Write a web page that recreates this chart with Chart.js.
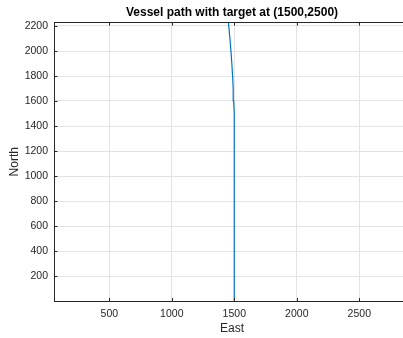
<!DOCTYPE html>
<html>
<head>
<meta charset="utf-8">
<script src="https://cdn.jsdelivr.net/npm/chart.js@4/dist/chart.umd.min.js"></script>
<style>
  html, body { margin: 0; padding: 0; background: #fff; overflow: hidden; }
  #wrap { width: 403px; height: 338px; overflow: hidden; }
  canvas { display: block; }
</style>
</head>
<body>
<div id="wrap"><canvas id="c" width="412" height="338"></canvas></div>
<script>
// Vessel track: North position and matching East position
const northPos = [0, 400, 800, 1200, 1300, 1400, 1500, 1600, 1700, 1800, 1900, 2000, 2100, 2200, 2300];
const eastPos  = [1500, 1500, 1500, 1500, 1500, 1499.5, 1497.8, 1495.1, 1491.2, 1486.3, 1480.3, 1473.2, 1464.9, 1455.6, 1445.2];

// Axis tick labels
const eastTicks  = [500, 1000, 1500, 2000, 2500];
const northTicks = [200, 400, 600, 800, 1000, 1200, 1400, 1600, 1800, 2000, 2200];

const AXIS = '#262626';
const FONT = "'Liberation Sans', Arial, Helvetica, sans-serif";

// Inward tick marks plus the top/right frame of the axes box
const boxTicks = {
  id: 'boxTicks',
  afterDraw(chart) {
    const { ctx, chartArea: a, scales } = chart;
    const len = 3.5;
    ctx.save();
    ctx.strokeStyle = AXIS;
    ctx.lineWidth = 1;
    ctx.beginPath();
    ctx.moveTo(a.left, a.top + 0.5);
    ctx.lineTo(a.right, a.top + 0.5);
    ctx.lineTo(a.right, a.bottom);
    scales.x.ticks.forEach(t => {
      const px = Math.round(scales.x.getPixelForValue(t.value)) + 0.5;
      ctx.moveTo(px, a.bottom); ctx.lineTo(px, a.bottom - len);
      ctx.moveTo(px, a.top); ctx.lineTo(px, a.top + len);
    });
    scales.y.ticks.forEach(t => {
      const py = Math.round(scales.y.getPixelForValue(t.value)) + 0.5;
      ctx.moveTo(a.left, py); ctx.lineTo(a.left + len, py);
      ctx.moveTo(a.right, py); ctx.lineTo(a.right - len, py);
    });
    ctx.stroke();
    ctx.restore();
  }
};

const plain = v => String(v);

new Chart(document.getElementById('c'), {
  type: 'scatter',
  data: {
    datasets: [{
      data: northPos.map((n, i) => ({ x: eastPos[i], y: n })),
      showLine: true,
      borderColor: '#0072BD',
      borderWidth: 1.2,
      pointRadius: 0,
      tension: 0,
      fill: false
    }]
  },
  options: {
    responsive: false,
    animation: false,
    devicePixelRatio: 1,
    layout: { padding: { left: 0, right: 2, top: 0, bottom: 0 } },
    plugins: {
      legend: { display: false },
      tooltip: { enabled: false },
      title: {
        display: true,
        text: 'Vessel path with target at (1500,2500)',
        color: '#000',
        fullSize: false,
        font: { family: FONT, size: 12, weight: 'bold', lineHeight: 1.2 },
        padding: { top: 5.6, bottom: 2 }
      }
    },
    scales: {
      x: {
        type: 'linear',
        min: 57.6,
        max: 2905.6,
        afterBuildTicks: s => { s.ticks = eastTicks.map(v => ({ value: v })); },
        afterFit: s => { s.height = 36.5; },
        grid: { color: '#e3e3e3', lineWidth: 1, drawTicks: false },
        border: { display: true, color: AXIS, width: 1 },
        ticks: { color: AXIS, padding: 6, font: { family: FONT, size: 10.5 }, maxRotation: 0, callback: plain },
        title: {
          display: true, text: 'East', color: AXIS,
          font: { family: FONT, size: 12 }, padding: { top: 0, bottom: 1.8 }
        }
      },
      y: {
        type: 'linear',
        min: -4,
        max: 2232,
        afterBuildTicks: s => { s.ticks = northTicks.map(v => ({ value: v })); },
        afterFit: s => { s.width = 54; },
        grid: { color: '#e3e3e3', lineWidth: 1, drawTicks: false },
        border: { display: true, color: AXIS, width: 1 },
        ticks: { color: AXIS, padding: 6, font: { family: FONT, size: 10.5 }, callback: plain },
        title: {
          display: true, text: 'North', color: AXIS,
          font: { family: FONT, size: 12 }, padding: { top: 7.3, bottom: 0 }
        }
      }
    }
  },
  plugins: [boxTicks]
});
</script>
</body>
</html>
